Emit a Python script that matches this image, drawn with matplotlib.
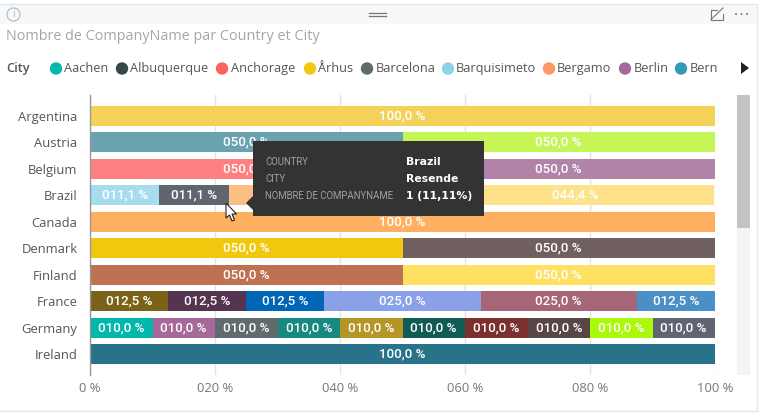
import matplotlib
matplotlib.use("Agg")
import matplotlib.pyplot as plt
from matplotlib.patches import Rectangle, Circle, Polygon

W, H = 764, 417

countries = ['Argentina', 'Austria', 'Belgium', 'Brazil', 'Canada',
             'Denmark', 'Finland', 'France', 'Germany', 'Ireland']

shares = [
    [100.0],
    [50.0, 50.0],
    [50.0, 50.0],
    [11.1, 11.1, 33.3, 44.4],
    [100.0],
    [50.0, 50.0],
    [50.0, 50.0],
    [12.5, 12.5, 12.5, 25.0, 25.0, 12.5],
    [10.0] * 10,
    [100.0],
]

bar_colors = [
    ['#F4D25A'],
    ['#6BA2B0', '#C6F558'],
    ['#FE8181', '#B283A8'],
    ['#A5DDEE', '#5F6670', '#FBBE83', '#FEE28A'],
    ['#FEAF5F'],
    ['#F2C80F', '#6F5F5E'],
    ['#BD7150', '#FEE063'],
    ['#7A6319', '#54344F', '#0066B5', '#8AA1EA', '#A66678', '#4A8FC6'],
    ['#01B8AA', '#A66999', '#5F6B6D', '#178A80', '#B59525',
     '#0F5C55', '#7C2F2F', '#584646', '#AAF80A', '#5F6470'],
    ['#28738A'],
]

# this segment's label sits under the tooltip
hidden_labels = [(3, 2)]

xticks = [0, 20, 40, 60, 80, 100]
xtick_labels = ['0 %', '020 %', '040 %', '060 %', '080 %', '100 %']

legend_names = ['Aachen', 'Albuquerque', 'Anchorage', 'Århus', 'Barcelona',
                'Barquisimeto', 'Bergamo', 'Berlin', 'Bern']
legend_colors = ['#01B8AA', '#374649', '#FD625E', '#F2C80F', '#5F6B6D',
                 '#8AD4EB', '#FE9666', '#A66999', '#3599B8']
legend_dots = [56, 122, 222, 310, 367, 448, 549, 625, 681]
legend_text = [64, 130.5, 231, 318.5, 375.5, 456, 557, 633.5, 689.5]

tooltip_keys = ['COUNTRY', 'CITY', 'NOMBRE DE COMPANYNAME']
tooltip_vals = ['Brazil', 'Resende', '1 (11,11%)']

SANS = 'Open Sans'
BAR_FONT = 'Roboto'

fig = plt.figure(figsize=(W / 100, H / 100), dpi=100, facecolor='white')

# overlay in pixel coordinates for the report chrome
bg = fig.add_axes([0, 0, 1, 1], zorder=0)
bg.set_xlim(0, W)
bg.set_ylim(H, 0)
bg.axis('off')

bg.plot([0, 756.5, 756.5, 0], [3.5, 3.5, 410.5, 410.5], color='#e6e6e6', lw=1)
bg.add_patch(Rectangle((0, 4), 756, 20, fc='#f8f8f8', ec='none'))
bg.add_patch(Circle((13.5, 14.5), 6.5, fc='none', ec='#a9c0d6', lw=0.9))
bg.text(13.5, 14.5, 'i', color='#a9c0d6', fontsize=8, ha='center', va='center', family=SANS)
bg.plot([369, 386], [12.5, 12.5], color='#777777', lw=0.9)
bg.plot([369, 386], [15.5, 15.5], color='#777777', lw=0.9)
bg.plot([717, 711, 711, 723, 723], [9.5, 9.5, 19.5, 19.5, 13.5], color='#777777', lw=0.8)
bg.plot([711, 723], [19.5, 8], color='#777777', lw=0.8)
for px in (736, 741.5, 747):
    bg.add_patch(Circle((px, 14), 1, fc='#777777', ec='none'))

bg.text(6, 36, 'Nombre de CompanyName par Country et City', color='#a6a6a6',
        fontsize=10.4, ha='left', va='center', family=SANS)

bg.text(6, 68.5, 'City', color='#555555', fontsize=9.2, fontweight='semibold',
        ha='left', va='center', family=SANS)
for name, c, dx, tx in zip(legend_names, legend_colors, legend_dots, legend_text):
    bg.add_patch(Circle((dx, 68.5), 6.2, fc=c, ec='none'))
    bg.text(tx, 68.5, name, color='#555555', fontsize=9.2, ha='left', va='center', family=SANS)
bg.add_patch(Polygon([(741, 62), (741, 74), (749, 68)], fc='#222222', ec='none'))

# scrollbar
bg.add_patch(Rectangle((737, 95), 13, 280, fc='#f4f4f4', ec='none'))
bg.add_patch(Rectangle((737, 95), 13, 133, fc='#c4c4c4', ec='none'))

# chart
left, right, top, bottom = 90, 715, 95, 375
ax = fig.add_axes([left / W, 1 - bottom / H, (right - left) / W, (bottom - top) / H], zorder=1)
ax.patch.set_alpha(0)
y = list(range(len(countries)))
for i, (vals, cols) in enumerate(zip(shares, bar_colors)):
    start = 0
    for j, (v, c) in enumerate(zip(vals, cols)):
        ax.barh(i, v, left=start, height=0.76, color=c, zorder=2)
        if (i, j) not in hidden_labels:
            ax.text(start + v / 2, i, f'{v:05.1f}'.replace('.', ',') + ' %', color='white',
                    fontsize=9.6, fontweight='medium', ha='center', va='center',
                    family=BAR_FONT, zorder=3)
        start += v

ax.set_xlim(0, 100)
ax.set_ylim(len(countries) - 0.21, -0.79)
ax.set_yticks(y, countries)
ax.set_xticks(xticks, xtick_labels)
ax.tick_params(axis='both', length=0, colors='#777777', labelsize=9.4)
ax.tick_params(axis='x', pad=5)
ax.tick_params(axis='y', pad=9, labelcolor='#555555')
for lab in ax.get_xticklabels() + ax.get_yticklabels():
    lab.set_family(SANS)
ax.grid(axis='x', color='#e3e3e3', lw=1, zorder=1)
for s in ('top', 'right', 'bottom'):
    ax.spines[s].set_visible(False)
ax.spines['left'].set_color('#999999')
ax.spines['left'].set_linewidth(1)

# tooltip and pointer on top of everything
fg = fig.add_axes([0, 0, 1, 1], zorder=5)
fg.set_xlim(0, W)
fg.set_ylim(H, 0)
fg.axis('off')
fg.patch.set_alpha(0)
fg.add_patch(Rectangle((253, 141), 231, 75, fc='#333333', ec='none'))
fg.add_patch(Polygon([(253, 196), (246, 203), (253, 210)], fc='#333333', ec='none'))
for ty, k, v in zip([162, 179, 196], tooltip_keys, tooltip_vals):
    fg.text(265, ty, k, color='#a0a0a0', fontsize=6.9, ha='left', va='center', family=BAR_FONT)
    fg.text(406, ty, v, color='white', fontsize=7.8, fontweight='bold', ha='left', va='center',
            family='DejaVu Sans')
fg.add_patch(Polygon([(226, 203), (226, 218), (229.5, 215), (232, 221), (234.5, 220),
                      (232, 214), (236.5, 214)], fc='white', ec='#222222', lw=0.8))

fig.savefig('out.png', dpi=100)
